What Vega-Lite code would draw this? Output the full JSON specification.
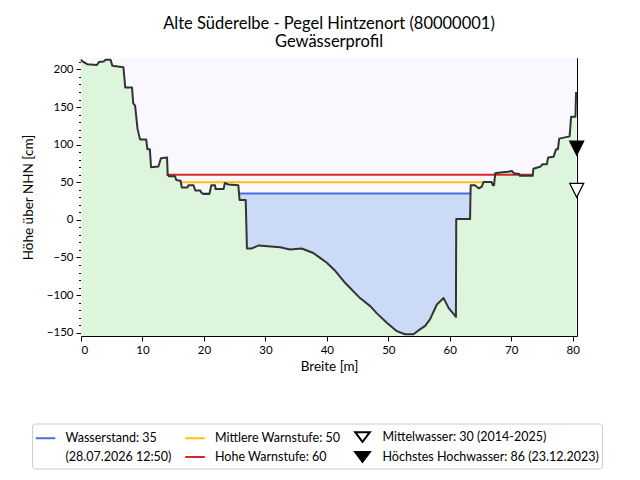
{
  "$schema": "https://vega.github.io/schema/vega-lite/v6.json",
  "width": 496,
  "height": 278,
  "autosize": {"type": "none"},
  "padding": {"left": 81, "top": 58, "right": 63, "bottom": 144},
  "background": "white",
  "config": {
    "font": "Lato",
    "view": {"stroke": "black", "strokeWidth": 1, "fill": "#f8f8fe"},
    "axis": {
      "domain": false,
      "tickColor": "black",
      "labelColor": "black",
      "titleColor": "black",
      "labelFont": "Lato",
      "titleFont": "Lato",
      "labelFontSize": 11.5,
      "titleFontSize": 13.5,
      "titleFontWeight": "normal",
      "gridColor": "#c4c4c4",
      "gridDash": [1.5, 2],
      "gridWidth": 0.8,
      "zindex": 1,
      "labelPadding": 3,
      "labelOverlap": false
    }
  },
  "title": {
    "text": ["Alte Süderelbe - Pegel Hintzenort (80000001)", "Gewässerprofil"],
    "font": "Lato",
    "fontSize": 16.5,
    "fontWeight": "normal",
    "color": "black",
    "anchor": "middle",
    "offset": 8,
    "lineHeight": 17.5
  },
  "resolve": {"axis": {"y": "independent"}},
  "datasets": {
    "profile": [
      {"x": 0.0, "y": 213}, {"x": 0.2, "y": 211}, {"x": 1.0, "y": 207}, {"x": 2.6, "y": 206},
      {"x": 2.9, "y": 210}, {"x": 3.7, "y": 210.5}, {"x": 4.0, "y": 213}, {"x": 4.8, "y": 213},
      {"x": 5.1, "y": 205}, {"x": 6.9, "y": 203}, {"x": 7.2, "y": 176}, {"x": 8.3, "y": 176},
      {"x": 8.5, "y": 155}, {"x": 8.8, "y": 152}, {"x": 9.2, "y": 121}, {"x": 9.6, "y": 107},
      {"x": 10.6, "y": 107}, {"x": 10.8, "y": 94}, {"x": 11.2, "y": 94}, {"x": 11.4, "y": 70},
      {"x": 12.6, "y": 71}, {"x": 13.0, "y": 82}, {"x": 14.0, "y": 83}, {"x": 14.1, "y": 61},
      {"x": 14.3, "y": 58}, {"x": 15.3, "y": 58}, {"x": 15.5, "y": 53}, {"x": 16.2, "y": 52},
      {"x": 16.4, "y": 43}, {"x": 17.3, "y": 43}, {"x": 17.5, "y": 46}, {"x": 18.3, "y": 46},
      {"x": 18.6, "y": 39}, {"x": 19.4, "y": 39}, {"x": 19.6, "y": 36}, {"x": 19.9, "y": 34.5},
      {"x": 20.9, "y": 34.5}, {"x": 21.2, "y": 46}, {"x": 21.8, "y": 46}, {"x": 21.9, "y": 41},
      {"x": 23.2, "y": 41}, {"x": 23.4, "y": 49}, {"x": 24.0, "y": 47}, {"x": 25.6, "y": 46},
      {"x": 25.8, "y": 26.5}, {"x": 26.8, "y": 26.5}, {"x": 27.0, "y": -38}, {"x": 27.8, "y": -38},
      {"x": 28.9, "y": -34}, {"x": 32.4, "y": -36.5}, {"x": 34.0, "y": -39.5}, {"x": 35.9, "y": -38},
      {"x": 37.8, "y": -44}, {"x": 38.9, "y": -50.5}, {"x": 40.0, "y": -57}, {"x": 41.4, "y": -68},
      {"x": 43.0, "y": -84}, {"x": 45.4, "y": -104}, {"x": 47.1, "y": -115}, {"x": 48.1, "y": -124},
      {"x": 49.8, "y": -137}, {"x": 51.4, "y": -148}, {"x": 52.7, "y": -152}, {"x": 54.1, "y": -152},
      {"x": 54.9, "y": -147}, {"x": 56.0, "y": -141}, {"x": 56.8, "y": -132}, {"x": 57.9, "y": -112.5},
      {"x": 59.0, "y": -104}, {"x": 59.8, "y": -117}, {"x": 61.0, "y": -129}, {"x": 61.05, "y": 1},
      {"x": 63.3, "y": 1}, {"x": 63.4, "y": 46}, {"x": 64.1, "y": 46}, {"x": 64.7, "y": 42},
      {"x": 65.2, "y": 44}, {"x": 65.5, "y": 50.5}, {"x": 66.8, "y": 50.5}, {"x": 67.0, "y": 46},
      {"x": 67.2, "y": 46}, {"x": 67.4, "y": 62}, {"x": 68.2, "y": 63}, {"x": 69.5, "y": 64},
      {"x": 70.1, "y": 65}, {"x": 70.4, "y": 62}, {"x": 71.3, "y": 61}, {"x": 71.4, "y": 58.5},
      {"x": 73.5, "y": 58.5}, {"x": 73.6, "y": 68}, {"x": 74.4, "y": 70}, {"x": 74.7, "y": 70.5},
      {"x": 75.1, "y": 74}, {"x": 75.8, "y": 74}, {"x": 76.0, "y": 83}, {"x": 76.9, "y": 84},
      {"x": 77.3, "y": 94}, {"x": 77.6, "y": 94}, {"x": 77.8, "y": 108}, {"x": 79.5, "y": 111},
      {"x": 79.74, "y": 137}, {"x": 80.45, "y": 137}, {"x": 80.55, "y": 170}
    ],
    "water": [
      {"x": 25.8, "y": 26.5}, {"x": 26.8, "y": 26.5}, {"x": 27.0, "y": -38}, {"x": 27.8, "y": -38},
      {"x": 28.9, "y": -34}, {"x": 32.4, "y": -36.5}, {"x": 34.0, "y": -39.5}, {"x": 35.9, "y": -38},
      {"x": 37.8, "y": -44}, {"x": 38.9, "y": -50.5}, {"x": 40.0, "y": -57}, {"x": 41.4, "y": -68},
      {"x": 43.0, "y": -84}, {"x": 45.4, "y": -104}, {"x": 47.1, "y": -115}, {"x": 48.1, "y": -124},
      {"x": 49.8, "y": -137}, {"x": 51.4, "y": -148}, {"x": 52.7, "y": -152}, {"x": 54.1, "y": -152},
      {"x": 54.9, "y": -147}, {"x": 56.0, "y": -141}, {"x": 56.8, "y": -132}, {"x": 57.9, "y": -112.5},
      {"x": 59.0, "y": -104}, {"x": 59.8, "y": -117}, {"x": 61.0, "y": -129}, {"x": 61.05, "y": 1},
      {"x": 63.35, "y": 1}
    ],
    "wl": [{"level": 35, "x1": 19.9, "x2": 20.9}, {"level": 35, "x1": 25.8, "x2": 63.35}],
    "mw": [{"level": 50, "x1": 16.44, "x2": 65.5}],
    "hw": [{"level": 60, "x1": 13.9, "x2": 73.55}],
    "mnw": [{"x": 80.65, "y": 30}],
    "hhw": [{"x": 80.65, "y": 86}],
    "legend": [
      {"name": "Wasserstand: 35"},
      {"name": "Mittlere Warnstufe: 50"},
      {"name": "Mittelwasser: 30 (2014-2025)"},
      {"name": "(28.07.2026 12:50)"},
      {"name": "Hohe Warnstufe: 60"},
      {"name": "Höchstes Hochwasser: 86 (23.12.2023)"}
    ]
  },
  "layer": [
    {
      "data": {"values": [{"x0": 0, "x1": 80.7, "y0": -154.4, "y1": 215.2}]},
      "mark": {"type": "rect", "fill": "#f8f8fe"},
      "encoding": {
        "x": {"field": "x0", "type": "quantitative", "title": "Breite [m]"},
        "x2": {"field": "x1"},
        "y": {"field": "y0", "type": "quantitative", "axis": null},
        "y2": {"field": "y1"}
      }
    },
    {
      "data": {"name": "profile"},
      "mark": {"type": "area", "fill": "#dcf5dc"},
      "encoding": {
        "x": {
          "field": "x", "type": "quantitative", "title": "Breite [m]",
          "scale": {"domain": [0, 80.7], "nice": false, "zero": false},
          "axis": {"values": [0, 10, 20, 30, 40, 50, 60, 70, 80], "tickSize": 5, "titlePadding": 4, "grid": true}
        },
        "y": {
          "field": "y", "type": "quantitative", "title": "Höhe über NHN [cm]",
          "scale": {"domain": [-154.4, 215.2], "nice": false, "zero": false},
          "axis": {
            "orient": "left",
            "values": [-150, -100, -50, 0, 50, 100, 150, 200],
            "grid": true,
            "tickSize": 5,
            "titlePadding": 11
          }
        },
        "y2": {"datum": -154.4}
      }
    },
    {
      "data": {"name": "water"},
      "mark": {"type": "area", "fill": "#cbdbf7"},
      "encoding": {
        "x": {"field": "x", "type": "quantitative", "title": "Breite [m]"},
        "y": {"field": "y", "type": "quantitative", "axis": null},
        "y2": {"datum": 35}
      }
    },
    {
      "data": {"name": "wl"},
      "mark": {"type": "rule", "color": "#4470dc", "strokeWidth": 2},
      "encoding": {
        "x": {"field": "x1", "type": "quantitative", "title": "Breite [m]"},
        "x2": {"field": "x2"},
        "y": {"field": "level", "type": "quantitative", "axis": null}
      }
    },
    {
      "data": {"name": "mw"},
      "mark": {"type": "rule", "color": "#ffc107", "strokeWidth": 2},
      "encoding": {
        "x": {"field": "x1", "type": "quantitative", "title": "Breite [m]"},
        "x2": {"field": "x2"},
        "y": {"field": "level", "type": "quantitative", "axis": null}
      }
    },
    {
      "data": {"name": "hw"},
      "mark": {"type": "rule", "color": "#d62728", "strokeWidth": 2},
      "encoding": {
        "x": {"field": "x1", "type": "quantitative", "title": "Breite [m]"},
        "x2": {"field": "x2"},
        "y": {"field": "level", "type": "quantitative", "axis": null}
      }
    },
    {
      "data": {"name": "profile"},
      "mark": {"type": "line", "color": "#333333", "strokeWidth": 2, "strokeJoin": "round"},
      "encoding": {
        "x": {"field": "x", "type": "quantitative", "title": "Breite [m]"},
        "y": {
          "field": "y", "type": "quantitative",
          "axis": {
            "orient": "left",
            "values": [-150, -140, -130, -120, -110, -100, -90, -80, -70, -60, -50, -40, -30, -20, -10, 0, 10, 20, 30, 40, 50, 60, 70, 80, 90, 100, 110, 120, 130, 140, 150, 160, 170, 180, 190, 200, 210],
            "labels": false,
            "grid": false,
            "tickSize": 2.5,
            "title": null,
            "domain": false
          }
        }
      }
    },
    {
      "data": {"name": "mnw"},
      "mark": {"type": "point", "filled": true, "fill": "white", "shape": "M-1,-2L1,-2L0,0Z", "size": 196, "stroke": "black", "strokeWidth": 1.2, "opacity": 1},
      "encoding": {
        "x": {"field": "x", "type": "quantitative", "title": "Breite [m]"},
        "y": {"field": "y", "type": "quantitative", "axis": null}
      }
    },
    {
      "data": {"name": "hhw"},
      "mark": {"type": "point", "filled": true, "fill": "black", "shape": "M-1,-2L1,-2L0,0Z", "size": 196, "stroke": "black", "strokeWidth": 1.2, "opacity": 1},
      "encoding": {
        "x": {"field": "x", "type": "quantitative", "title": "Breite [m]"},
        "y": {"field": "y", "type": "quantitative", "axis": null}
      }
    },
    {
      "data": {"name": "legend"},
      "mark": {"type": "point", "filled": true, "opacity": 0},
      "encoding": {
        "fill": {
          "field": "name", "type": "nominal",
          "scale": {
            "domain": ["Wasserstand: 35", "Mittlere Warnstufe: 50", "Mittelwasser: 30 (2014-2025)", "(28.07.2026 12:50)", "Hohe Warnstufe: 60", "Höchstes Hochwasser: 86 (23.12.2023)"],
            "range": ["transparent", "transparent", "white", "transparent", "transparent", "black"]
          },
          "legend": {
            "title": null,
            "orient": "none",
            "legendX": -49,
            "legendY": 365.5,
            "direction": "horizontal",
            "columns": 3,
            "gridAlign": "each",
            "columnPadding": 9.5,
            "rowPadding": 0,
            "padding": 2.5,
            "strokeColor": "#cccccc",
            "fillColor": "white",
            "cornerRadius": 3,
            "labelFont": "Lato",
            "labelFontSize": 12.5,
            "labelColor": "black",
            "labelOffset": 9,
            "labelLimit": 400,
            "symbolSize": 384,
            "symbolStrokeWidth": 2,
            "symbolOpacity": 1
          }
        },
        "stroke": {
          "field": "name", "type": "nominal",
          "scale": {
            "domain": ["Wasserstand: 35", "Mittlere Warnstufe: 50", "Mittelwasser: 30 (2014-2025)", "(28.07.2026 12:50)", "Hohe Warnstufe: 60", "Höchstes Hochwasser: 86 (23.12.2023)"],
            "range": ["#4470dc", "#ffc107", "black", "transparent", "#d62728", "black"]
          }
        },
        "shape": {
          "field": "name", "type": "nominal",
          "scale": {
            "domain": ["Wasserstand: 35", "Mittlere Warnstufe: 50", "Mittelwasser: 30 (2014-2025)", "(28.07.2026 12:50)", "Hohe Warnstufe: 60", "Höchstes Hochwasser: 86 (23.12.2023)"],
            "range": [
              "stroke",
              "stroke",
              "M-0.75,-0.5L0.75,-0.5L0,0.5Z",
              "stroke",
              "stroke",
              "M-0.75,-0.5L0.75,-0.5L0,0.5ZM-0.62,-0.38L0.62,-0.38M-0.5,-0.25L0.5,-0.25M-0.38,-0.12L0.38,-0.12M-0.27,0L0.27,0M-0.15,0.12L0.15,0.12M-0.05,0.25L0.05,0.25"
            ]
          }
        }
      }
    }
  ]
}
